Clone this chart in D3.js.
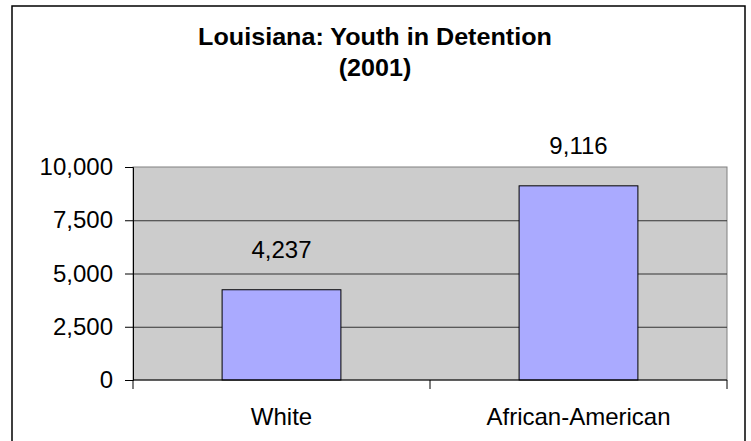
<!DOCTYPE html>
<html>
<head>
<meta charset="utf-8">
<script src="https://cdn.jsdelivr.net/npm/d3@7"></script>
<style>
  body { margin: 0; background: #fff; }
  svg { display: block; font-family: "Liberation Sans", Arial, sans-serif; }
</style>
</head>
<body>
<svg id="chart" width="751" height="441"></svg>
<script>
"use strict";

const categories = ["White", "African-American"];
const detained = [4237, 9116];
const yTicks = [0, 2500, 5000, 7500, 10000];
const titleLines = ["Louisiana: Youth in Detention", "(2001)"];

const plotLeft = 133;
const plotRight = 727;
const plotTop = 167;
const plotBottom = 380;

const svg = d3.select("#chart");

// outer chart frame (runs off the bottom of the picture)
svg.append("rect")
  .attr("x", 12).attr("y", 6)
  .attr("width", 733).attr("height", 450)
  .attr("fill", "#fff")
  .attr("stroke", "#000")
  .attr("stroke-width", 1.5);

const x = d3.scaleBand()
  .domain(categories)
  .range([plotLeft, plotRight])
  .paddingInner(0.6)
  .paddingOuter(0.3);

const y = d3.scaleLinear()
  .domain([0, 10000])
  .range([plotBottom, plotTop]);

// title
const title = svg.append("g")
  .attr("transform", "translate(375,0) scale(1.07,1)");
title.selectAll("text")
  .data(titleLines)
  .enter()
  .append("text")
  .attr("x", 0)
  .attr("y", (d, i) => 45 + i * 31)
  .attr("text-anchor", "middle")
  .attr("font-size", 23.5)
  .attr("font-weight", "bold")
  .text((d) => d);

// plot area
svg.append("rect")
  .attr("x", plotLeft).attr("y", plotTop)
  .attr("width", plotRight - plotLeft).attr("height", plotBottom - plotTop)
  .attr("fill", "#cccccc")
  .attr("stroke", "#808080")
  .attr("stroke-width", 1);

// gridlines
svg.append("g")
  .selectAll("line")
  .data(yTicks.filter((t) => t > 0 && t < 10000))
  .enter()
  .append("line")
  .attr("x1", plotLeft).attr("x2", plotRight)
  .attr("y1", (d) => y(d) + 0.5).attr("y2", (d) => y(d) + 0.5)
  .attr("stroke", "#333")
  .attr("stroke-width", 1);

// bars
svg.append("g")
  .selectAll("rect")
  .data(categories)
  .enter()
  .append("rect")
  .attr("x", (d) => x(d))
  .attr("y", (d, i) => y(detained[i]))
  .attr("width", x.bandwidth())
  .attr("height", (d, i) => plotBottom - y(detained[i]))
  .attr("fill", "#aaaaff")
  .attr("stroke", "#000")
  .attr("stroke-width", 1);

// value labels
svg.append("g")
  .selectAll("text")
  .data(categories)
  .enter()
  .append("text")
  .attr("x", (d) => x(d) + x.bandwidth() / 2)
  .attr("y", (d, i) => y(detained[i]) - 32)
  .attr("text-anchor", "middle")
  .attr("font-size", 24)
  .text((d, i) => d3.format(",")(detained[i]));

// y axis
const yAxis = svg.append("g")
  .attr("transform", `translate(${plotLeft},0)`)
  .call(d3.axisLeft(y).tickValues(yTicks).tickFormat(d3.format(",")).tickSize(8).tickPadding(12));
yAxis.select(".domain").attr("stroke", "#000");
yAxis.selectAll(".tick line").attr("stroke", "#000");
yAxis.selectAll("text")
  .attr("font-size", 24)
  .attr("font-family", "'Liberation Sans', Arial, sans-serif")
  .attr("fill", "#000");

// x axis with ticks at the category boundaries
const xAxisG = svg.append("g");
xAxisG.append("line")
  .attr("x1", plotLeft).attr("x2", plotRight)
  .attr("y1", plotBottom).attr("y2", plotBottom)
  .attr("stroke", "#000");
const boundaries = categories.map((d) => x(d) - x.step() * x.paddingOuter())
  .concat([plotRight]);
xAxisG.selectAll("line.tick")
  .data(boundaries)
  .enter()
  .append("line")
  .attr("class", "tick")
  .attr("x1", (d) => d).attr("x2", (d) => d)
  .attr("y1", plotBottom).attr("y2", plotBottom + 9)
  .attr("stroke", "#000");
xAxisG.selectAll("text")
  .data(categories)
  .enter()
  .append("text")
  .attr("x", (d) => x(d) + x.bandwidth() / 2)
  .attr("y", 425)
  .attr("text-anchor", "middle")
  .attr("font-size", 24)
  .text((d) => d);
</script>
</body>
</html>
